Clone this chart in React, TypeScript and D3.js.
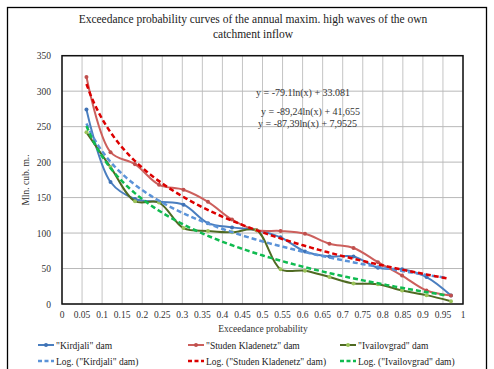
import React from 'react';
import * as d3 from 'd3';

// exceedance probabilities of the 16 ranked events
const probs = [0.061, 0.121, 0.182, 0.242, 0.303, 0.364, 0.424, 0.485, 0.545, 0.606, 0.667, 0.727, 0.788, 0.848, 0.909, 0.97];
const kirdjali = [274, 172, 148, 144, 140, 114, 108, 104, 94, 74, 67, 67, 51, 49, 38, 12];
const studen = [320, 214, 197, 168, 161, 144, 119, 104, 103, 99, 85, 79, 59, 40, 19, 12];
const ivailovgrad = [242, 193, 145, 143, 107, 103, 101, 104, 49, 47, 38, 29, 28, 19, 12.5, 4];

const xTicks = d3.range(0, 21).map((i) => i * 0.05);
const yTicks = [0, 50, 100, 150, 200, 250, 300, 350];
const equations = ['y = -79.1ln(x) + 33.081', 'y = -89,24ln(x) + 41,655', 'y = -87,39ln(x) + 7,9525'];

const series = [
  { name: '"Kirdjali" dam', values: kirdjali, color: '#4a7ebf', marker: '#3f72b5', trend: '#5b93d8' },
  { name: '"Studen Kladenetz" dam', values: studen, color: '#cc5f5c', marker: '#c0504d', trend: '#dc0000' },
  { name: '"Ivailovgrad" dam', values: ivailovgrad, color: '#4f6a22', marker: '#9bc35a', trend: '#10bb50' },
];

// least squares fit of y = a*ln(x) + b (same as the spreadsheet log trendline)
function logFit(xs: number[], ys: number[]) {
  const lx = xs.map((v) => Math.log(v));
  const mx = d3.mean(lx) as number;
  const my = d3.mean(ys) as number;
  const a = d3.sum(lx, (v, i) => (v - mx) * (ys[i] - my)) / d3.sum(lx, (v) => (v - mx) ** 2);
  return { a, b: my - a * mx };
}

const App = () => {
  const width = 494;
  const height = 369;
  const x = d3.scaleLinear().domain([0, 1]).range([62, 463]);
  const y = d3.scaleLinear().domain([0, 350]).range([304, 55.7]);
  const font = '"Liberation Serif", "Times New Roman", serif';

  const line = d3
    .line<[number, number]>()
    .x((d) => x(d[0]))
    .y((d) => y(d[1]))
    .curve(d3.curveCatmullRom.alpha(0.5));

  const trendLine = d3
    .line<[number, number]>()
    .x((d) => x(d[0]))
    .y((d) => y(d[1]));

  const legendCols = [38, 188, 340];

  return (
    <svg width={width} height={height} style={{ position: 'absolute', left: 0, top: 0, background: '#fff' }} fontFamily={font}>
      <rect x={7.5} y={7.5} width={479} height={380} fill="none" stroke="#000" strokeWidth={1.3} />

      <text x={253} y={23} textAnchor="middle" fontSize={11.5} fill="#222">
        Exceedance probability curves of the annual maxim. high waves of the own
      </text>
      <text x={253} y={38} textAnchor="middle" fontSize={11.5} fill="#222">
        catchment inflow
      </text>

      {/* grid */}
      {xTicks.map((t) => (
        <line key={'gx' + t} x1={x(t)} x2={x(t)} y1={y(350)} y2={y(0)} stroke="#c4c4c4" strokeWidth={1} />
      ))}
      {yTicks.map((t) => (
        <line key={'gy' + t} x1={x(0)} x2={x(1)} y1={y(t)} y2={y(t)} stroke="#b8b8b8" strokeWidth={1} />
      ))}
      <rect x={x(0)} y={y(350)} width={x(1) - x(0)} height={y(0) - y(350)} fill="none" stroke="#111" strokeWidth={1.5} />

      {/* tick labels */}
      {yTicks.map((t) => (
        <text key={'yl' + t} x={51} y={y(t) + 3.5} textAnchor="end" fontSize={9.5} fill="#333">
          {t}
        </text>
      ))}
      {xTicks.map((t) => (
        <text key={'xl' + t} x={x(t)} y={318} textAnchor="middle" fontSize={9.5} fill="#333">
          {d3.format('~g')(+t.toFixed(2))}
        </text>
      ))}
      <text x={263} y={332} textAnchor="middle" fontSize={9.5} fill="#333">
        Exceedance probability
      </text>
      <text transform={`translate(29,180) rotate(-90)`} textAnchor="middle" fontSize={9.5} fill="#333">
        Mln. cub. m..
      </text>

      {/* data series */}
      {series.map((s) => {
        const pts = probs.map((p, i) => [p, s.values[i]] as [number, number]);
        return (
          <g key={s.name}>
            <path d={line(pts) || ''} fill="none" stroke={s.color} strokeWidth={2} />
            {pts.map((p, i) => (
              <circle key={i} cx={x(p[0])} cy={y(p[1])} r={2} fill={s.marker} />
            ))}
          </g>
        );
      })}

      {/* log trendlines */}
      {series.map((s) => {
        const { a, b } = logFit(probs, s.values);
        const xs = d3.range(probs[0], probs[probs.length - 1] + 0.0001, 0.01);
        const pts = xs.map((v) => [v, a * Math.log(v) + b] as [number, number]);
        return (
          <path key={'t' + s.name} d={trendLine(pts) || ''} fill="none" stroke={s.trend} strokeWidth={2.5} strokeDasharray="5,3" />
        );
      })}

      {/* equations */}
      {equations.map((e, i) => (
        <text key={e} x={[256, 261, 258][i]} y={[96, 115, 127][i]} fontSize={10} fill="#333">
          {e}
        </text>
      ))}

      {/* legend */}
      {series.map((s, i) => (
        <g key={'lg' + i}>
          <line x1={legendCols[i]} x2={legendCols[i] + 16} y1={345} y2={345} stroke={s.color} strokeWidth={2} />
          <circle cx={legendCols[i] + 8} cy={345} r={2} fill={s.marker} />
          <text x={legendCols[i] + 18} y={348.5} fontSize={9.5} fill="#222">
            {s.name}
          </text>
          <line x1={legendCols[i]} x2={legendCols[i] + 16} y1={361} y2={361} stroke={s.trend} strokeWidth={2.5} strokeDasharray="4,2.5" />
          <text x={legendCols[i] + 18} y={364.5} fontSize={9.5} fill="#222">
            {`Log. (${s.name})`}
          </text>
        </g>
      ))}
    </svg>
  );
};

export default App;
